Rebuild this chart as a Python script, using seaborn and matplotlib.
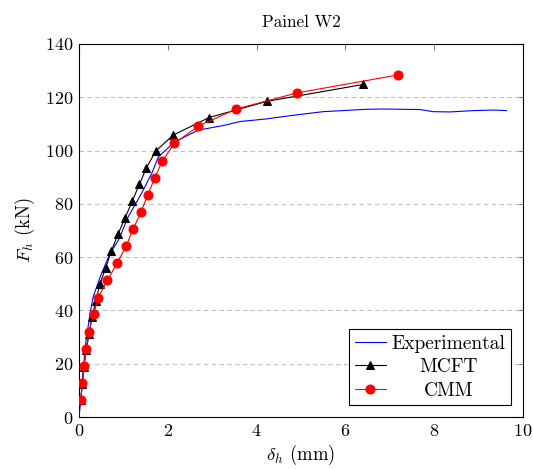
import matplotlib
matplotlib.use("Agg")
import matplotlib.pyplot as plt
import seaborn as sns
import pandas as pd

exp_x = [0.0, 0.05, 0.10, 0.14, 0.25, 0.32, 0.51, 0.70, 0.89, 1.11, 1.41, 1.64, 1.79, 2.16, 2.69,
         3.25, 3.63, 4.23, 4.75, 5.50, 6.48, 6.85, 7.68, 7.98, 8.36, 8.88, 9.33, 9.63]
exp_y = [0.0, 8.0, 18.0, 26.4, 39.0, 45.2, 54.0, 61.4, 66.4, 75.2, 84.0, 91.5, 97.7, 103.3, 107.7,
         109.4, 110.9, 111.9, 113.1, 114.6, 115.5, 115.6, 115.4, 114.6, 114.5, 115.0, 115.2, 115.0]

mcft_x = [0.04, 0.07, 0.11, 0.16, 0.23, 0.29, 0.38, 0.47, 0.60, 0.73, 0.88, 1.04, 1.20, 1.36, 1.52,
          1.73, 2.12, 2.93, 4.24, 6.40]
mcft_y = [6.3, 12.5, 18.8, 25.0, 31.3, 37.5, 43.5, 49.8, 56.0, 62.3, 68.7, 74.8, 81.1, 87.3, 93.6,
          99.8, 105.8, 112.4, 118.5, 124.8]

cmm_x = [0.04, 0.075, 0.11, 0.16, 0.22, 0.33, 0.43, 0.64, 0.86, 1.06, 1.22, 1.40, 1.55, 1.71, 1.88,
         2.15, 2.69, 3.54, 4.90, 7.19]
cmm_y = [6.4, 12.6, 19.1, 25.4, 31.9, 38.5, 44.8, 51.3, 57.8, 64.1, 70.6, 77.0, 83.5, 89.8, 96.2,
         102.7, 109.2, 115.6, 121.6, 128.4]

x_ticks = [0, 2, 4, 6, 8, 10]
y_ticks = [0, 20, 40, 60, 80, 100, 120, 140]

sns.set_style("white")
plt.rcParams["font.family"] = ["cmr10", "DejaVu Serif"]
plt.rcParams["mathtext.fontset"] = "cm"
plt.rcParams["axes.formatter.use_mathtext"] = True
plt.rcParams["text.color"] = "black"
plt.rcParams["axes.labelcolor"] = "black"
plt.rcParams["xtick.labelcolor"] = "black"
plt.rcParams["ytick.labelcolor"] = "black"

fig = plt.figure(figsize=(5.33, 4.69), dpi=100)
ax = fig.add_axes([79/533, 1-417/469, (523-79)/533, (417-44)/469])

df_exp = pd.DataFrame({"x": exp_x, "y": exp_y})
df_mcft = pd.DataFrame({"x": mcft_x, "y": mcft_y})
df_cmm = pd.DataFrame({"x": cmm_x, "y": cmm_y})

sns.lineplot(data=df_exp, x="x", y="y", ax=ax, color="blue", lw=0.8, sort=False,
             label="Experimental", zorder=3)
sns.lineplot(data=df_mcft, x="x", y="y", ax=ax, color="black", lw=0.8, sort=False,
             marker="^", markersize=5.5, markeredgecolor="black", label="MCFT", zorder=4)
sns.lineplot(data=df_cmm, x="x", y="y", ax=ax, color="red", lw=0.8, sort=False,
             marker="o", markersize=6.5, markeredgecolor="red", label="CMM", zorder=5)

ax.set_xlim(0, 10)
ax.set_ylim(0, 140)
ax.set_xticks(x_ticks)
ax.set_yticks(y_ticks)
for y in y_ticks[1:-1]:
    ax.axhline(y, color="#c0c0c0", lw=0.8, ls=(0, (4, 3)), zorder=1)
ax.tick_params(direction="in", length=4, width=0.8, color="#808080", labelsize=13,
               labelcolor="black", top=True, right=True, pad=4)
for s in ax.spines.values():
    s.set_color("black")
    s.set_linewidth(0.8)

ax.set_xlabel(r"$\delta_h$ (mm)", fontsize=13.5, labelpad=3)
ax.set_ylabel(r"$F_h$ (kN)", fontsize=13.5, labelpad=6)
ax.set_title("Painel W2", fontsize=12.3, pad=12)

LFS = 14
leg = ax.legend(loc="lower right", fontsize=LFS, frameon=True, fancybox=False,
                edgecolor="black", framealpha=1, handlelength=1.6, borderpad=0.3,
                labelspacing=0.28, handletextpad=0.3, borderaxespad=0.6)
leg.get_frame().set_linewidth(0.8)

# centre the legend labels (pgfplots style)
fig.canvas.draw()
renderer = fig.canvas.get_renderer()
exts = [t.get_window_extent(renderer) for t in leg.get_texts()]
left = min(e.x0 for e in exts)
right = max(e.x1 for e in exts)
cx = (left + right) / 2
inv = fig.transFigure.inverted()
fx, _ = inv.transform((cx, 0))
for t in leg.get_texts():
    tx, ty = t.get_transform().transform(t.get_position())
    _, fy = inv.transform((0, ty))
    fig.text(fx, fy, t.get_text(), ha="center", va=t.get_va(), fontsize=LFS,
             color="black", zorder=10)
    t.set_visible(False)

fig.savefig("out.png", dpi=100)
